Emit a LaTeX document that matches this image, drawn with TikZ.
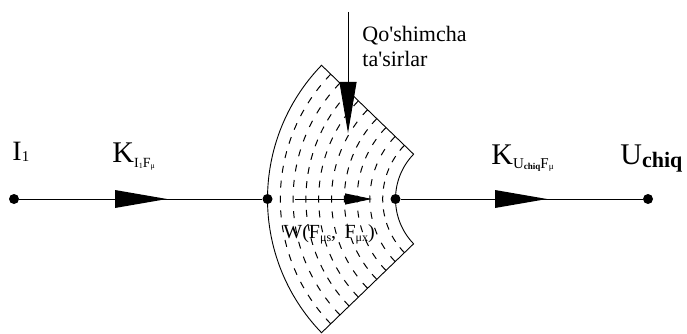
\documentclass[tikz,border=0pt]{standalone}
\usepackage{fontspec}
\setmainfont{Liberation Serif}
\usetikzlibrary{calc,arrows.meta}
\newcommand\fsz[1]{\fontsize{#1}{#1}\selectfont}
\newcommand\lowr[3]{\raisebox{-#1pt}{\fsz{#2}#3}}
\begin{document}
\begin{tikzpicture}[x=1pt,y=-1pt,line width=0.9pt,
  dot/.style={circle,fill,inner sep=0pt,minimum size=10pt},
  lbl/.style={anchor=base west,inner sep=0pt},
  arrhead/.style={fill=black}]
\useasboundingbox (0,0) rectangle (687,334);
\coordinate (c) at (460,199);
% sector outline
\draw ($(c)+(136:192.5)$) arc[start angle=136,end angle=224,radius=192.5]
  -- ($(c)+(224:64.5)$) arc[start angle=224,end angle=136,radius=64.5] -- cycle;
% dashed concentric arcs
\foreach \k in {1,...,9}{
  \pgfmathsetmacro\rr{64.5+12.8*\k}
  \pgfmathsetmacro\FF{\rr*1.53589}
  \pgfmathsetmacro\nd{2*round((\FF-7)/30)}
  \pgfmathsetmacro\gp{(\FF-7)/\nd-7}
  \draw[line width=1pt,dash pattern=on 7pt off \gp pt] ($(c)+(136:\rr)$) arc[start angle=136,end angle=224,radius=\rr];
}
% nodes
\node[dot] (i1) at (14,199) {};
\node[dot] (a) at (267.5,199) {};
\node[dot] (b) at (395.5,199) {};
\node[dot] (u) at (648,199) {};
% connectors
\draw (i1) -- (a);
\draw (b) -- (u);
\fill[arrhead] (115,190) -- (167,199) -- (115,208) -- cycle;
\fill[arrhead] (495,190) -- (547,199) -- (495,208) -- cycle;
\coordinate (qt) at (348,12);
\coordinate (qb) at (348,133);
\draw[-{Triangle[length=51pt,width=17pt]}] (qt) -- (qb);
\coordinate (w1) at (295,199);
\coordinate (w2) at (372,199);
\draw[-{Triangle[length=27pt,width=11pt]}] (w1) -- (w2);
% labels
\node[lbl] (li) at (12,160) {\fsz{28}I\lowr{1}{15}{1}};
\node[lbl] (lk1) at (112,162) {\fsz{30}K\lowr{5}{14}{I\lowr{1}{8}{1}F\lowr{1.5}{8}{μ}}};
\node[lbl] (lk2) at (491,164) {\fsz{30}K\lowr{4}{15}{U\lowr{1}{9}{\bfseries chiq}F\lowr{1.5}{9}{μ}}};
\node[lbl] (lu) at (620,164) {\fsz{30}U\lowr{3}{22}{\bfseries chiq}};
\node[lbl] (q1) at (362,42) {\fsz{22}Qo\textquotesingle shimcha};
\node[lbl] (q2) at (362,67) {\fsz{22}ta\textquotesingle sirlar};
\node[lbl] (wl) at (283,238) {\fsz{20}W(F\lowr{3}{12}{μs}, \,F\lowr{3}{12}{μx})};
\end{tikzpicture}
\end{document}
